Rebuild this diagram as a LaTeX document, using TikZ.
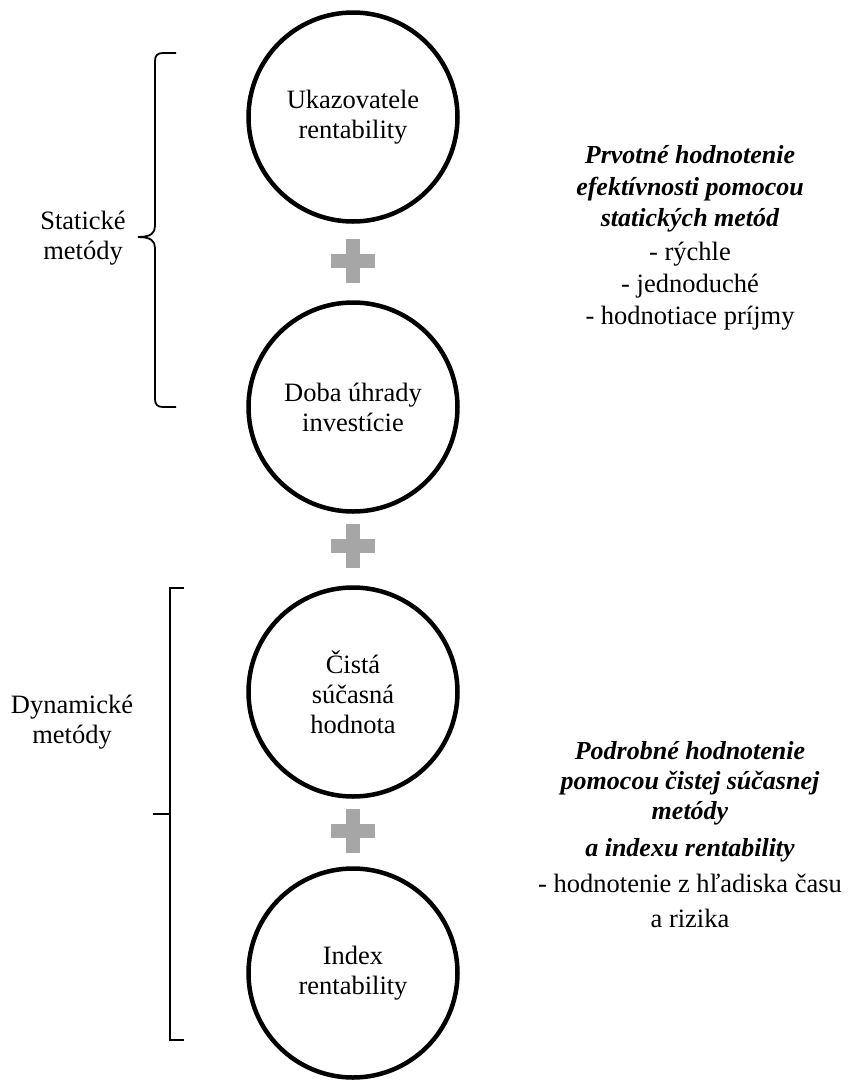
\documentclass[tikz,border=0pt]{standalone}
\usepackage{fontspec}
\setmainfont{Liberation Serif}
\definecolor{plusgray}{HTML}{A6A6A6}
\tikzset{
  method/.style={circle, draw=black, line width=4.5pt, minimum size=209pt,
    inner sep=0pt, align=center, font=\fontsize{26.5}{30}\selectfont},
  sidelabel/.style={align=center, font=\fontsize{26.5}{29.5}\selectfont},
  noteline/.style={anchor=base, inner sep=0pt, font=\fontsize{26.5}{30}\selectfont},
  notehead/.style={noteline, font=\fontsize{26}{30}\selectfont\bfseries\itshape},
  bracketline/.style={line width=1.8pt, line cap=butt},
  plusmark/.style={fill=plusgray}
}
\newcommand{\plusat}[2]{%
  \fill[plusmark] (#1-22,#2-7) rectangle (#1+22,#2+7);
  \fill[plusmark] (#1-7,#2-22) rectangle (#1+7,#2+22);}
\begin{document}
\begin{tikzpicture}[x=1pt,y=-1pt]
\useasboundingbox (0,0) rectangle (848,1080);

% method circles
\node[method] (ukaz) at (353,117) {Ukazovatele\\rentability};
\node[method] (doba) at (353,407) {Doba úhrady\\investície};
\node[method] (npv)  at (353,692) {Čistá\\súčasná\\hodnota};
\node[method] (index) at (353,973) {Index\\rentability};

% plus signs between the circles
\plusat{353}{261}
\plusat{353}{546}
\plusat{353}{831}

% curly brace for static methods
\draw[bracketline] (176,53) -- (163,53)
  .. controls (157.5,53) and (155,55.5) .. (155,61)
  -- (155,226)
  .. controls (155,233) and (151,237) .. (138,237)
  .. controls (151,237) and (155,241) .. (155,248)
  -- (155,399)
  .. controls (155,404.5) and (157.5,407) .. (163,407)
  -- (176,407);
\node[sidelabel] (stat) at (83,238) {Statické\\metódy};

% square bracket for dynamic methods
\draw[bracketline] (184,588) -- (170,588) -- (170,1040) -- (184,1040);
\coordinate (dyntip) at (153,814);
\coordinate (dynjoin) at (170,814);
\draw[bracketline] (dyntip) -- (dynjoin);
\node[sidelabel] (dyn) at (72,722) {Dynamické\\metódy};

% description of the static methods
\node[notehead] (s1) at (690,163) {Prvotné hodnotenie};
\node[notehead] (s2) at (690,195) {efektívnosti pomocou};
\node[notehead] (s3) at (690,226) {statických metód};
\node[noteline] (s4) at (690,260) {- rýchle};
\node[noteline] (s5) at (690,292) {- jednoduché};
\node[noteline] (s6) at (690,324) {- hodnotiace príjmy};

% description of the dynamic methods
\node[notehead] (d1) at (690,759) {Podrobné hodnotenie};
\node[notehead] (d2) at (690,789) {pomocou čistej súčasnej};
\node[notehead] (d3) at (690,819) {metódy};
\node[notehead] (d4) at (690,856) {a indexu rentability};
\node[noteline] (d5) at (690,892) {- hodnotenie z hľadiska času};
\node[noteline] (d6) at (690,927) {a rizika};
\end{tikzpicture}
\end{document}
